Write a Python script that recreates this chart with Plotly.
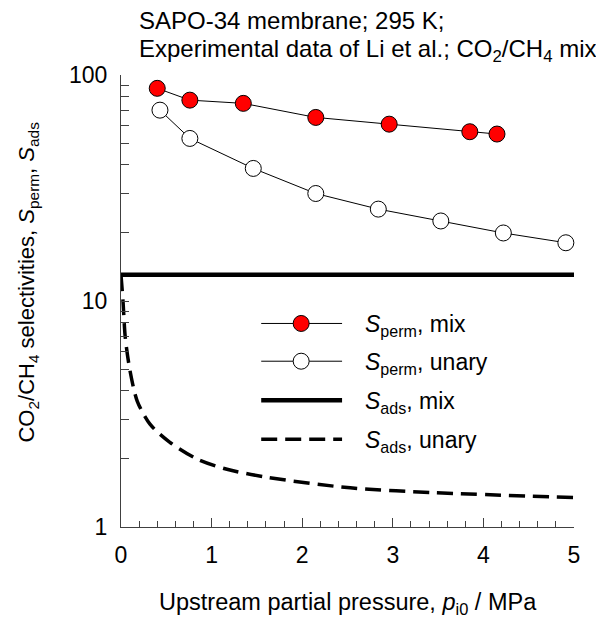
import plotly.graph_objects as go

# ---- data ----
p_perm_mix = [0.40, 0.76, 1.35, 2.15, 2.96, 3.85, 4.15]
s_perm_mix = [87.3, 77.4, 74.9, 64.9, 60.6, 56.1, 54.8]

p_perm_unary = [0.43, 0.76, 1.46, 2.15, 2.84, 3.53, 4.22, 4.91]
s_perm_unary = [69.9, 52.4, 38.6, 29.9, 25.5, 22.6, 20.0, 18.1]

p_ads_mix = [0.0, 5.0]
s_ads_mix = [13.05, 13.05]

p_ads_unary = [0.0, 0.022, 0.047, 0.10, 0.18, 0.32, 0.54, 0.84, 1.17, 1.61, 2.53, 3.45, 5.0]
s_ads_unary = [13.0, 10.0, 6.9, 4.9, 3.6, 2.85, 2.37, 2.0, 1.80, 1.66, 1.49, 1.42, 1.35]

x_ticks = [0, 1, 2, 3, 4, 5]
y_ticks = [1, 10, 100]
y_minor = [2, 3, 4, 5, 6, 7, 8, 9, 20, 30, 40, 50, 60, 70, 80, 90]

legend_labels = [
    "<i>S</i><sub>perm</sub>, mix",
    "<i>S</i><sub>perm</sub>, unary",
    "<i>S</i><sub>ads</sub>, mix",
    "<i>S</i><sub>ads</sub>, unary",
]

FONT = "Liberation Sans, Arial, sans-serif"
FS = 23
AX = "#404040"
DASH = "16px,8px"

fig = go.Figure()

fig.add_trace(go.Scatter(
    x=p_ads_unary, y=s_ads_unary, mode="lines",
    line=dict(color="black", width=3.5, dash=DASH, shape="spline", smoothing=0.8),
    showlegend=False, cliponaxis=False))
fig.add_trace(go.Scatter(
    x=p_ads_mix, y=s_ads_mix, mode="lines",
    line=dict(color="black", width=4.5), showlegend=False, cliponaxis=False))
fig.add_trace(go.Scatter(
    x=p_perm_unary, y=s_perm_unary, mode="lines+markers",
    line=dict(color="black", width=1),
    marker=dict(size=16, color="white", line=dict(color="black", width=1)),
    showlegend=False, cliponaxis=False))
fig.add_trace(go.Scatter(
    x=p_perm_mix, y=s_perm_mix, mode="lines+markers",
    line=dict(color="black", width=1),
    marker=dict(size=16, color="red", line=dict(color="black", width=1)),
    showlegend=False, cliponaxis=False))

# ---- custom legend (paper coordinates) ----
shapes = []
annotations = []
lx0, lx1, mx, tx = 0.3095, 0.488, 0.3977, 0.5345
rows = [0.4503, 0.3668, 0.2804, 0.1941]
styles = [
    dict(width=1, dash="solid", marker="red"),
    dict(width=1, dash="solid", marker="white"),
    dict(width=4.5, dash="solid", marker=None),
    dict(width=3.5, dash=DASH, marker=None),
]
for ry, st, lab in zip(rows, styles, legend_labels):
    shapes.append(dict(type="line", xref="paper", yref="paper",
                       x0=lx0, x1=lx1, y0=ry, y1=ry,
                       line=dict(color="black", width=st["width"], dash=st["dash"])))
    if st["marker"]:
        shapes.append(dict(type="circle", xref="paper", yref="paper",
                           xsizemode="pixel", ysizemode="pixel",
                           xanchor=mx, yanchor=ry, x0=-8, x1=8, y0=-8, y1=8,
                           fillcolor=st["marker"], line=dict(color="black", width=1)))
    annotations.append(dict(text=lab, xref="paper", yref="paper", x=tx, y=ry - 0.004,
                            xanchor="left", yanchor="middle", showarrow=False,
                            font=dict(family=FONT, size=FS, color="black")))

annotations.append(dict(text="SAPO-34 membrane; 295 K;", xref="paper", yref="paper",
                        x=0.036, y=1.1196, xanchor="left", yanchor="middle",
                        showarrow=False, font=dict(family=FONT, size=24, color="black")))
annotations.append(dict(text="Experimental data of Li et al.; CO<sub>2</sub>/CH<sub>4</sub> mix",
                        xref="paper", yref="paper",
                        x=0.036, y=1.0551, xanchor="left", yanchor="middle",
                        showarrow=False, font=dict(family=FONT, size=24, color="black")))
annotations.append(dict(text="CO<sub>2</sub>/CH<sub>4</sub> selectivities, <i>S</i><sub>perm</sub>, <i>S</i><sub>ads</sub>",
                        xref="paper", yref="paper", x=-0.2045, y=0.5417,
                        xanchor="center", yanchor="middle", textangle=-90,
                        showarrow=False, font=dict(family=FONT, size=22, color="black")))
annotations.append(dict(text="Upstream partial pressure, <i>p</i><sub>i0</sub> / MPa",
                        xref="paper", yref="paper", x=0.5, y=-0.169,
                        xanchor="center", yanchor="middle",
                        showarrow=False, font=dict(family=FONT, size=23.5, color="black")))

fig.update_layout(
    width=596, height=620,
    margin=dict(l=121, r=22, t=75, b=93, pad=0),
    paper_bgcolor="white", plot_bgcolor="white",
    font=dict(family=FONT, size=FS, color="black"),
    shapes=shapes, annotations=annotations,
    showlegend=False,
    xaxis=dict(range=[0, 5], tickvals=x_ticks, ticks="inside", ticklen=9,
               tickcolor=AX, tickwidth=1, showline=True, linecolor=AX, linewidth=1,
               showgrid=False, zeroline=False, mirror=False, automargin=False,
               minor=dict(dtick=0.2, ticks="inside", ticklen=6, tickcolor=AX, tickwidth=1, showgrid=False),
               ticklabelstandoff=7),
    yaxis=dict(type="log", range=[0, 2], tickvals=y_ticks, ticktext=["1", "10", "100"],
               ticks="inside", ticklen=8, tickcolor=AX, tickwidth=1,
               showline=True, linecolor=AX, linewidth=1,
               showgrid=False, zeroline=False, mirror=False, automargin=False,
               minor=dict(tickvals=y_minor, ticks="inside", ticklen=8, tickcolor=AX, tickwidth=1, showgrid=False),
               ticklabelstandoff=8),
)

fig.write_html("out.html")
